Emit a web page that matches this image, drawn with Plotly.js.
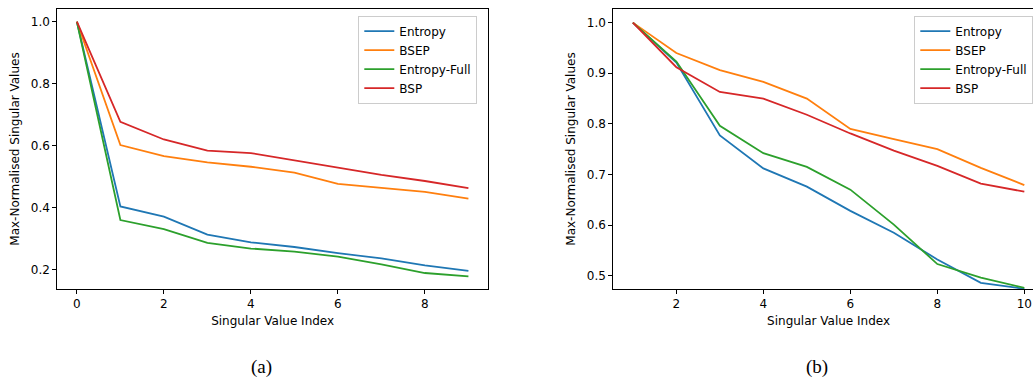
<!DOCTYPE html>
<html>
<head>
<meta charset="utf-8">
<script src="https://cdn.plot.ly/plotly-3.0.1.min.js"></script>
<style>
  html, body { margin: 0; padding: 0; background: #fff; overflow: hidden; }
  #chart { width: 1060px; height: 380px; }
</style>
</head>
<body>
<div id="chart"></div>
<script>
// Panel (a): singular value index 0..9
const indexA = [0, 1, 2, 3, 4, 5, 6, 7, 8, 9];
const entropyA = [1.0, 0.404, 0.371, 0.313, 0.288, 0.273, 0.253, 0.236, 0.214, 0.196];
const bsepA = [1.0, 0.602, 0.566, 0.546, 0.532, 0.513, 0.477, 0.465, 0.451, 0.429];
const entropyFullA = [1.0, 0.360, 0.331, 0.286, 0.268, 0.258, 0.242, 0.217, 0.189, 0.178];
const bspA = [1.0, 0.677, 0.620, 0.584, 0.576, 0.553, 0.529, 0.506, 0.486, 0.463];

// Panel (b): singular value index 1..10
const indexB = [1, 2, 3, 4, 5, 6, 7, 8, 9, 10];
const entropyB = [1.0, 0.921, 0.777, 0.712, 0.676, 0.628, 0.585, 0.532, 0.486, 0.474];
const bsepB = [1.0, 0.940, 0.906, 0.883, 0.850, 0.790, 0.770, 0.750, 0.713, 0.679];
const entropyFullB = [1.0, 0.923, 0.796, 0.742, 0.715, 0.670, 0.601, 0.523, 0.496, 0.476];
const bspB = [1.0, 0.912, 0.863, 0.850, 0.818, 0.781, 0.747, 0.717, 0.682, 0.666];

const seriesNames = ["Entropy", "BSEP", "Entropy-Full", "BSP"];
const seriesColors = ["#1f77b4", "#ff7f0e", "#2ca02c", "#d62728"];

const ticksA = [0, 2, 4, 6, 8];
const ticksB = [2, 4, 6, 8, 10];
const captions = ["(a)", "(b)"];

const W = 1060, H = 380;
const px = v => v / W;
const py = v => 1 - v / H;

const panelA = [entropyA, bsepA, entropyFullA, bspA];
const panelB = [entropyB, bsepB, entropyFullB, bspB];

const traces = [];
panelA.forEach((ys, i) => traces.push({
  x: indexA, y: ys, type: "scatter", mode: "lines", name: seriesNames[i],
  line: { color: seriesColors[i], width: 1.8 },
  xaxis: "x", yaxis: "y", legend: "legend"
}));
panelB.forEach((ys, i) => traces.push({
  x: indexB, y: ys, type: "scatter", mode: "lines", name: seriesNames[i],
  line: { color: seriesColors[i], width: 1.8 },
  xaxis: "x2", yaxis: "y2", legend: "legend2"
}));

const font = { family: "DejaVu Sans", size: 12, color: "#000" };
const axisBase = {
  showgrid: false, zeroline: false, showline: true, mirror: true,
  linecolor: "#000", linewidth: 1, ticks: "outside", ticklen: 4,
  tickcolor: "#000", tickwidth: 1, tickfont: font
};
const legendBase = {
  font: font, bgcolor: "rgba(255,255,255,0.8)", bordercolor: "#cccccc",
  borderwidth: 1, itemwidth: 30, xanchor: "left", yanchor: "top",
  tracegroupgap: 0
};

const layout = {
  width: W, height: H,
  margin: { l: 0, r: 0, t: 0, b: 0 },
  paper_bgcolor: "#fff", plot_bgcolor: "#fff",
  font: font,
  xaxis: Object.assign({}, axisBase, {
    domain: [px(57.3), px(488)], range: [-0.45, 9.45], tickvals: ticksA,
    title: { text: "Singular Value Index", font: font, standoff: 6 }, anchor: "y"
  }),
  yaxis: Object.assign({}, axisBase, {
    domain: [py(289), py(9)], range: [0.1374, 1.0411], dtick: 0.2, tick0: 0.2,
    tickformat: ".1f",
    title: { text: "Max-Normalised Singular Values", font: font, standoff: 8 }, anchor: "x"
  }),
  xaxis2: Object.assign({}, axisBase, {
    domain: [px(613.3), px(1043.9)], range: [0.55, 10.45], tickvals: ticksB,
    title: { text: "Singular Value Index", font: font, standoff: 6 }, anchor: "y2"
  }),
  yaxis2: Object.assign({}, axisBase, {
    domain: [py(289), py(9)], range: [0.4737, 1.0269], dtick: 0.1, tick0: 0.5,
    tickformat: ".1f",
    title: { text: "Max-Normalised Singular Values", font: font, standoff: 8 }, anchor: "x2"
  }),
  legend: Object.assign({}, legendBase, { x: px(358.3), y: py(15.7) }),
  legend2: Object.assign({}, legendBase, { x: px(914.3), y: py(15.7) }),
  annotations: [
    { text: captions[0], x: px(261), y: py(367), xref: "paper", yref: "paper",
      showarrow: false, xanchor: "center", yanchor: "middle",
      font: { family: "Liberation Serif", size: 19, color: "#000" } },
    { text: captions[1], x: px(817), y: py(367), xref: "paper", yref: "paper",
      showarrow: false, xanchor: "center", yanchor: "middle",
      font: { family: "Liberation Serif", size: 19, color: "#000" } }
  ]
};

Plotly.newPlot("chart", traces, layout, { staticPlot: true, displayModeBar: false });
</script>
</body>
</html>
